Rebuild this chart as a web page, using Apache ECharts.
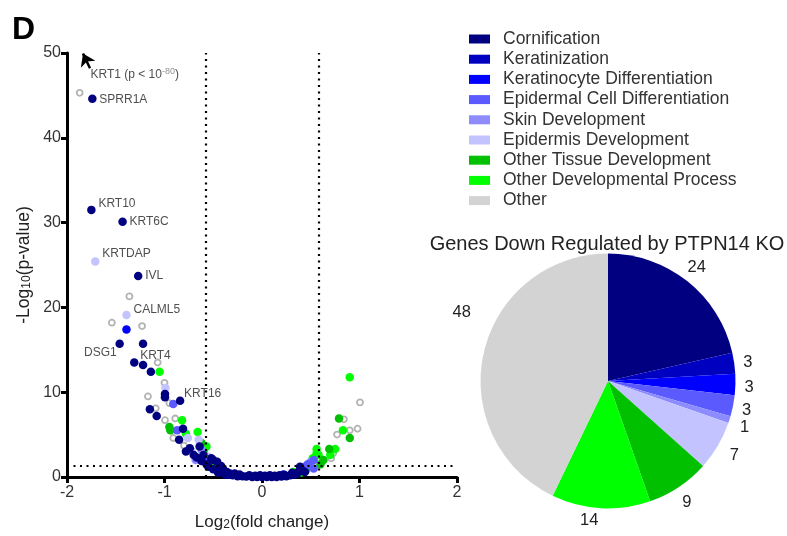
<!DOCTYPE html>
<html>
<head>
<meta charset="utf-8">
<script src="https://cdn.jsdelivr.net/npm/echarts@6/dist/echarts.min.js"></script>
<style>
  html, body { margin: 0; padding: 0; background: #fff; }
  #main { width: 787px; height: 536px; }
</style>
</head>
<body>
<div id="main"></div>
<script>
// pie: genes down regulated, by category
var categories = ['Cornification', 'Keratinization', 'Keratinocyte Differentiation',
    'Epidermal Cell Differentiation', 'Skin Development', 'Epidermis Development',
    'Other Tissue Development', 'Other Developmental Process', 'Other'];
var geneCounts = [24, 3, 3, 3, 1, 7, 9, 14, 48];
var catColors = ['#000080', '#0000c0', '#0000ff', '#5a5aff', '#8c8cff', '#c3c3ff',
    '#00c000', '#00ff00', '#d3d3d3'];

// volcano points [log2FC, -log10 p], one array per category
var cornificationPts = [[-1.74, 44.6], [-1.75, 31.5], [-1.43, 30.1], [-1.27, 23.7], [-1.46, 15.7],
    [-1.22, 15.7], [-1.31, 13.5], [-1.22, 13.2], [-1.14, 12.4], [-0.995, 9.8], [-0.995, 9.4],
    [-0.84, 9.0], [-1.15, 8.0], [-1.08, 7.2], [-0.81, 5.7], [-0.85, 4.4], [-0.78, 3.0],
    [-0.74, 3.4], [-0.64, 3.6], [-0.70, 2.6], [-0.67, 2.3], [-0.60, 2.6], [-0.62, 1.9],
    [-0.52, 2.2], [-0.57, 1.5], [-0.50, 2.0], [-0.46, 1.8], [-0.55, 1.2], [-0.50, 0.9],
    [-0.45, 0.8], [-0.42, 1.3], [-0.40, 1.0], [-0.45, 0.5], [-0.38, 0.3], [-0.36, 0.6],
    [-0.33, 0.4], [-0.30, 0.2], [-0.28, 0.4], [-0.25, 0.1], [-0.23, 0.3], [-0.20, 0.1],
    [-0.16, 0.05], [-0.13, 0.2], [-0.10, 0.0], [-0.07, 0.15], [-0.05, 0.0], [-0.02, 0.2],
    [0.0, 0.0], [0.03, 0.15], [0.05, 0.0], [0.08, 0.2], [0.10, 0.0], [0.13, 0.15],
    [0.15, 0.0], [0.18, 0.2], [0.20, 0.05], [0.23, 0.25], [0.25, 0.1], [0.29, 0.2],
    [0.31, 0.5], [0.34, 0.3], [0.36, 0.4], [0.38, 0.7], [0.41, 0.8], [0.39, 1.2], [0.44, 0.6]];
var keratinocytePts = [[-1.39, 17.4], [-0.35, 0.3], [0.22, 0.3]];
var epidermalPts = [[-0.91, 8.6], [-0.87, 5.5], [-0.58, 1.9], [0.53, 2.0], [0.44, 1.2],
    [0.53, 1.0], [0.47, 1.5]];
var skinPts = [[-0.62, 3.2], [-0.68, 2.0], [0.50, 1.8]];
var epidermisPts = [[-1.71, 25.4], [-1.39, 19.1], [-0.99, 10.5], [-0.76, 4.6], [-0.65, 4.4],
    [-0.72, 3.0], [-0.55, 2.4]];
var otherTissuePts = [[-0.95, 5.9], [-0.94, 5.5], [-0.62, 4.0], [-0.60, 3.0], [-0.48, 1.3],
    [0.79, 6.9], [0.90, 4.6], [0.69, 3.3], [0.63, 2.0], [0.60, 1.5], [0.45, 0.8], [0.40, 0.5]];
var otherDevPts = [[-1.05, 12.4], [-0.82, 6.7], [-0.66, 5.3], [-0.78, 5.1], [-0.57, 3.6],
    [-0.55, 1.6], [-0.50, 1.0], [0.90, 11.75], [0.83, 5.5], [0.56, 3.3], [0.75, 3.3],
    [0.58, 2.6], [0.70, 2.6], [0.49, 1.6], [0.32, 0.6], [0.56, 2.8], [0.52, 2.2]];
var otherPts = [[-1.87, 45.3], [-1.36, 21.3], [-1.54, 18.2], [-1.23, 17.8], [-1.07, 13.5],
    [-1.0, 11.1], [-1.17, 9.5], [-0.95, 8.7], [-1.09, 8.1], [-0.995, 6.7], [-0.89, 6.9],
    [-0.91, 4.6], [-0.80, 3.7], [-0.57, 3.6], [1.005, 8.8], [0.84, 6.8], [0.90, 5.5],
    [0.98, 5.7], [0.77, 5.0], [0.71, 2.2], [0.73, 2.8]];

// labelled genes
var geneNames = ['SPRR1A', 'KRT10', 'KRT6C', 'KRTDAP', 'IVL', 'CALML5', 'DSG1', 'KRT4', 'KRT16'];
var geneX = [-1.74, -1.75, -1.43, -1.71, -1.27, -1.39, -1.46, -1.31, -0.84];
var geneY = [44.6, 31.5, 30.1, 25.4, 23.7, 19.1, 15.7, 13.5, 9.0];

// cut-offs
var fcCut = 0.585;   // log2(1.5)
var pCut = 1.3;      // -log10(0.05)

var xTicks = [-2, -1, 0, 1, 2];
var yTicks = [0, 10, 20, 30, 40, 50];

var FONT = 'Arial, "Liberation Sans", sans-serif';

var labelOffsets = {
    'SPRR1A': { pos: 'right', off: [-2, 1] },
    'KRT10': { pos: 'right', off: [-2, -6] },
    'KRT6C': { pos: 'right', off: [-2, 0] },
    'KRTDAP': { pos: 'right', off: [-2, -8] },
    'IVL': { pos: 'right', off: [-2, 0] },
    'CALML5': { pos: 'right', off: [-2, -5] },
    'DSG1': { pos: 'left', off: [6, 9] },
    'KRT4': { pos: 'right', off: [-3, -7] },
    'KRT16': { pos: 'right', off: [-5, -7] }
};

function dotSeries(name, pts, color) {
    return {
        name: name, type: 'scatter', data: pts, symbolSize: 8.5,
        itemStyle: { color: color, opacity: 1 },
        emphasis: { disabled: true }, silent: true
    };
}

var geneLabelData = [];
for (var i = 0; i < geneNames.length; i++) {
    var o = labelOffsets[geneNames[i]];
    geneLabelData.push({
        value: [geneX[i], geneY[i]], name: geneNames[i],
        label: { position: o.pos, offset: o.off }
    });
}
geneLabelData.push({
    value: [-1.79, 47.4], name: 'KRT1', symbolSize: 0,
    label: { position: 'right', offset: [-2, 0],
        formatter: '{a|KRT1 (p < 10}{sup|-80}{a|)}' }
});

var series = [
    {
        name: 'v-other', type: 'scatter', data: otherPts, symbolSize: 6,
        itemStyle: { color: '#fff', borderColor: '#a0a0a0', borderWidth: 1.8 },
        silent: true,
        markLine: {
            silent: true, symbol: 'none', animation: false,
            label: { show: false },
            lineStyle: { color: '#000', width: 2.2, type: [2, 4.5] },
            data: [{ xAxis: -fcCut }, { xAxis: fcCut }, { yAxis: pCut }]
        }
    },
    dotSeries('v-otherDev', otherDevPts, catColors[7]),
    dotSeries('v-otherTissue', otherTissuePts, catColors[6]),
    dotSeries('v-epidermis', epidermisPts, catColors[5]),
    dotSeries('v-skin', skinPts, catColors[4]),
    dotSeries('v-epidermal', epidermalPts, catColors[3]),
    dotSeries('v-keratinocyte', keratinocytePts, catColors[2]),
    dotSeries('v-cornification', cornificationPts, catColors[0]),
    {
        name: 'gene-labels', type: 'scatter', data: geneLabelData, symbolSize: 8,
        itemStyle: { color: 'rgba(0,0,0,0)' }, silent: true, z: 5,
        label: {
            show: true, formatter: '{b}', fontSize: 12, color: '#222', fontFamily: FONT,
            rich: {
                a: { fontSize: 12, color: '#222', fontFamily: FONT },
                sup: { fontSize: 9, color: '#777', fontFamily: FONT, verticalAlign: 'top', padding: [0, 0, 8, 0] }
            }
        },
        markLine: {
            silent: true, animation: false, label: { show: false },
            symbolSize: 12,
            lineStyle: { color: '#000', width: 2.5, type: 'solid' },
            data: [[{ coord: [-1.764, 48.2], symbol: 'none' }, { coord: [-1.836, 49.95], symbol: 'arrow' }]]
        }
    },
    {
        name: 'pie', type: 'pie', center: [608, 381], radius: 127.5, startAngle: 90,
        avoidLabelOverlap: false, silent: true,
        data: categories.map(function (c, i) {
            return { name: c, value: geneCounts[i], itemStyle: { color: catColors[i] } };
        }),
        itemStyle: { borderWidth: 0 },
        label: { show: true, position: 'outside', formatter: '{c}', fontSize: 16.5, color: '#222', fontFamily: FONT },
        labelLine: { show: false, length: 8, length2: 0 },
        labelLayout: function (params) {
            var shift = {
                0: { dx: -10, dy: -8 }, 1: { dx: -4 }, 2: { dx: -4, dy: 3 }, 3: { dx: -4, dy: 3 },
                4: { dx: -2, dy: 5 }, 5: { dy: 6 }, 6: { dx: -6, dy: 9 }, 7: { dx: 3, dy: 4 },
                8: { dx: 0, dy: -38 }
            };
            return shift[params.dataIndex] || {};
        }
    }
];

var option = {
    animation: false,
    backgroundColor: '#fff',
    title: [
        { text: 'D', left: 7, top: 9, textStyle: { fontSize: 32, fontWeight: 'bold', color: '#000', fontFamily: FONT } },
        { text: 'Genes Down Regulated by PTPN14 KO', left: 602, top: 229, textAlign: 'center',
          textStyle: { fontSize: 20, fontWeight: 'normal', color: '#222', fontFamily: FONT } }
    ],
    legend: {
        orient: 'vertical', left: 464, top: 25,
        data: categories.map(function (c) { return { name: c, icon: 'rect' }; }),
        itemWidth: 21, itemHeight: 9, itemGap: 2.2,
        selectedMode: false,
        textStyle: { fontSize: 17.5, color: '#333', fontFamily: FONT, lineHeight: 17.5, padding: [0, 0, 0, 8] }
    },
    grid: { left: 67, right: 330, top: 53, bottom: 59 },
    xAxis: {
        type: 'value', min: xTicks[0], max: xTicks[xTicks.length - 1], interval: 1,
        name: 'Log{sub|2}(fold change)', nameLocation: 'middle', nameGap: 36,
        nameTextStyle: {
            fontSize: 17, color: '#222', fontFamily: FONT,
            rich: { sub: { fontSize: 12, color: '#222', verticalAlign: 'bottom', padding: [6, 0, 0, 0] } }
        },
        axisLine: { lineStyle: { color: '#000', width: 3 } },
        axisTick: { show: true, length: 6, lineStyle: { color: '#000', width: 3 } },
        axisLabel: { fontSize: 16, color: '#333', fontFamily: FONT, margin: 8 },
        splitLine: { show: false }
    },
    yAxis: {
        type: 'value', min: yTicks[0], max: yTicks[yTicks.length - 1], interval: 10,
        name: '-Log{sub|10}(p-value)', nameLocation: 'middle', nameGap: 34,
        nameTextStyle: {
            fontSize: 17.5, color: '#222', fontFamily: FONT,
            rich: { sub: { fontSize: 12, color: '#222', verticalAlign: 'bottom', padding: [6, 0, 0, 0] } }
        },
        axisLine: { onZero: false, lineStyle: { color: '#000', width: 3 } },
        axisTick: { show: true, length: 6, lineStyle: { color: '#000', width: 3 } },
        axisLabel: { fontSize: 16, color: '#333', fontFamily: FONT, margin: 6 },
        splitLine: { show: false }
    },
    series: series
};

var myChart = echarts.init(document.getElementById('main'));
myChart.setOption(option);
</script>
</body>
</html>
